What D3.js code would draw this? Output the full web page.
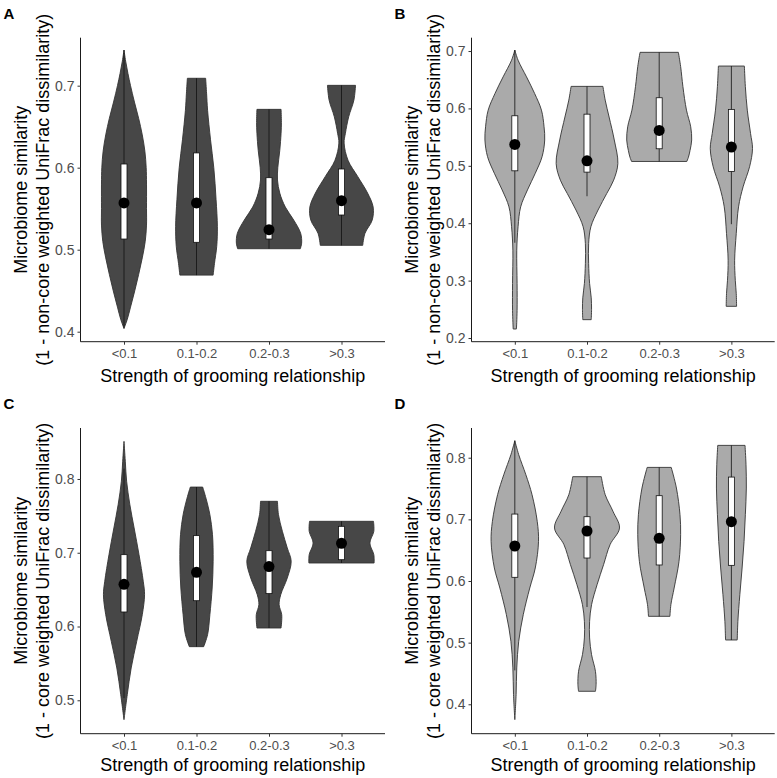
<!DOCTYPE html>
<html>
<head>
<meta charset="utf-8">
<script src="https://cdn.jsdelivr.net/npm/d3@7"></script>
<style>
  html, body { margin: 0; padding: 0; background: #fff; }
  svg { display: block; }
  text { font-family: "Liberation Sans", Arial, sans-serif; }
</style>
</head>
<body>
<svg id="chart" width="777" height="778"></svg>
<script>
// ---------- data ----------
const categories = ["<0.1", "0.1-0.2", "0.2-0.3", ">0.3"];
const panelLabels = ["A", "B", "C", "D"];
const xTitle = "Strength of grooming relationship";
const yTitleLine1 = "Microbiome similarity";
const yTitleNonCore = "(1 - non-core weighted UniFrac dissimilarity)";
const yTitleCore = "(1 - core weighted UniFrac dissimilarity)";

const yTicksA = [0.4, 0.5, 0.6, 0.7];
const yTicksB = [0.2, 0.3, 0.4, 0.5, 0.6, 0.7];
const yTicksC = [0.5, 0.6, 0.7, 0.8];
const yTicksD = [0.4, 0.5, 0.6, 0.7, 0.8];

const yDomainA = [0.3878, 0.7585];
const yDomainB = [0.1936, 0.7232];
const yDomainC = [0.4547, 0.8691];
const yDomainD = [0.3523, 0.8482];

// violin profiles: [similarity value, relative density width]
const densityA = [
  [[0.7435,0],[0.73,0.05],[0.715,0.12],[0.70,0.2],[0.68,0.32],[0.66,0.45],[0.64,0.56],[0.62,0.64],[0.60,0.68],[0.58,0.69],[0.55,0.69],[0.53,0.69],[0.51,0.65],[0.49,0.56],[0.47,0.45],[0.45,0.33],[0.43,0.2],[0.415,0.1],[0.404,0]],
  [[0.709,0.28],[0.69,0.31],[0.67,0.34],[0.634,0.43],[0.60,0.53],[0.561,0.60],[0.528,0.64],[0.504,0.62],[0.483,0.55],[0.469,0.51]],
  [[0.6711,0.37],[0.655,0.38],[0.642,0.37],[0.621,0.33],[0.60,0.27],[0.585,0.26],[0.569,0.33],[0.552,0.5],[0.536,0.76],[0.52,0.97],[0.508,1.0],[0.5012,0.96]],
  [[0.7004,0.43],[0.6825,0.38],[0.662,0.22],[0.642,0.12],[0.63,0.08],[0.609,0.2],[0.589,0.5],[0.569,0.8],[0.552,0.97],[0.536,0.94],[0.52,0.72],[0.5053,0.65]]
];
const densityB = [
  [[0.7017,0],[0.684,0.1],[0.655,0.36],[0.626,0.61],[0.597,0.82],[0.568,0.9],[0.545,0.92],[0.516,0.84],[0.487,0.63],[0.458,0.39],[0.4285,0.18],[0.394,0.1],[0.353,0.06],[0.295,0.07],[0.248,0.07],[0.2157,0.05]],
  [[0.6384,0.49],[0.6145,0.56],[0.585,0.68],[0.545,0.84],[0.504,0.95],[0.475,0.82],[0.452,0.61],[0.423,0.34],[0.394,0.12],[0.3645,0.05],[0.33,0.05],[0.295,0.08],[0.27,0.13],[0.25,0.14],[0.232,0.13]],
  [[0.6977,0.59],[0.673,0.66],[0.638,0.73],[0.597,0.84],[0.568,0.97],[0.545,1.0],[0.527,0.95],[0.515,0.9],[0.5076,0.85]],
  [[0.6738,0.4],[0.638,0.43],[0.597,0.49],[0.5564,0.59],[0.53,0.65],[0.4983,0.56],[0.4634,0.36],[0.4285,0.22],[0.382,0.15],[0.3355,0.1],[0.3006,0.12],[0.2773,0.15],[0.2552,0.16]]
];
const densityC = [
  [[0.851,0],[0.824,0.04],[0.797,0.08],[0.765,0.18],[0.7336,0.31],[0.6974,0.46],[0.6613,0.59],[0.6432,0.63],[0.616,0.56],[0.58,0.39],[0.5438,0.22],[0.5076,0.1],[0.4737,0]],
  [[0.789,0.19],[0.774,0.29],[0.7516,0.41],[0.7245,0.49],[0.6884,0.51],[0.6522,0.48],[0.616,0.41],[0.589,0.34],[0.5727,0.22]],
  [[0.7697,0.26],[0.7516,0.29],[0.729,0.41],[0.7065,0.56],[0.6884,0.68],[0.6658,0.56],[0.6432,0.36],[0.6296,0.31],[0.616,0.39],[0.598,0.37]],
  [[0.7426,0.98],[0.729,0.99],[0.7132,0.87],[0.6974,0.99],[0.6861,1.0]]
];
const densityD = [
  [[0.8276,0],[0.8049,0.12],[0.7724,0.34],[0.74,0.53],[0.6968,0.69],[0.6643,0.73],[0.6211,0.63],[0.5886,0.46],[0.5454,0.26],[0.5022,0.12],[0.459,0.06],[0.4157,0.04],[0.3751,0]],
  [[0.7692,0.44],[0.74,0.56],[0.713,0.8],[0.686,1.0],[0.659,0.71],[0.6265,0.51],[0.594,0.31],[0.5616,0.14],[0.5346,0.08],[0.5076,0.08],[0.4805,0.14],[0.4535,0.26],[0.4319,0.28],[0.4211,0.26]],
  [[0.7843,0.37],[0.7508,0.53],[0.7076,0.64],[0.6751,0.66],[0.6319,0.61],[0.5886,0.46],[0.5616,0.36],[0.5427,0.33]],
  [[0.82,0.42],[0.7886,0.45],[0.7508,0.46],[0.7076,0.43],[0.6643,0.39],[0.6211,0.33],[0.5778,0.26],[0.5346,0.2],[0.5043,0.18]]
];

// box summaries per category
const q1A = [0.513, 0.509, 0.513, 0.5423];
const q3A = [0.6045, 0.618, 0.5878, 0.5984];
const meanA = [0.557, 0.557, 0.5244, 0.5598];
const whiskLoA = [0.404, 0.469, 0.5012, 0.5053];
const whiskHiA = [0.7435, 0.709, 0.6711, 0.7004];

const q1B = [0.4913, 0.489, 0.5297, 0.4901];
const q3B = [0.5872, 0.590, 0.6186, 0.5983];
const meanB = [0.5372, 0.5087, 0.5616, 0.5326];
const whiskLoB = [0.366, 0.447, 0.5076, 0.3983];
const whiskHiB = [0.7017, 0.6384, 0.6977, 0.6738];

const q1C = [0.6197, 0.635, 0.6446, 0.6906];
const q3C = [0.6974, 0.7232, 0.7028, 0.7358];
const meanC = [0.6572, 0.6735, 0.6812, 0.7128];
const whiskLoC = [0.503, 0.5727, 0.598, 0.6861];
const whiskHiC = [0.814, 0.789, 0.7697, 0.7426];

const q1D = [0.606, 0.6373, 0.626, 0.6254];
const q3D = [0.7086, 0.7043, 0.7384, 0.7686];
const meanD = [0.6568, 0.6811, 0.6692, 0.6962];
const whiskLoD = [0.455, 0.5578, 0.5427, 0.5043];
const whiskHiD = [0.8276, 0.7692, 0.7843, 0.82];

// ---------- drawing ----------
const svg = d3.select("#chart");
const darkFill = "#474747", lightFill = "#aaaaaa";

const panels = [
  {label: panelLabels[0], x0: 80.5, x1: 385, y0: 37.7, y1: 341.7, dom: yDomainA, ticks: yTicksA, dens: densityA, q1: q1A, q3: q3A, mean: meanA, lo: whiskLoA, hi: whiskHiA, fill: darkFill, t2: yTitleNonCore, xt: 40},
  {label: panelLabels[1], x0: 471.5, x1: 774.7, y0: 37.7, y1: 341.7, dom: yDomainB, ticks: yTicksB, dens: densityB, q1: q1B, q3: q3B, mean: meanB, lo: whiskLoB, hi: whiskHiB, fill: lightFill, t2: yTitleNonCore, xt: 40},
  {label: panelLabels[2], x0: 80.5, x1: 385, y0: 428, y1: 733.7, dom: yDomainC, ticks: yTicksC, dens: densityC, q1: q1C, q3: q3C, mean: meanC, lo: whiskLoC, hi: whiskHiC, fill: darkFill, t2: yTitleCore, xt: 37.5},
  {label: panelLabels[3], x0: 471.5, x1: 774.7, y0: 428, y1: 733.7, dom: yDomainD, ticks: yTicksD, dens: densityD, q1: q1D, q3: q3D, mean: meanD, lo: whiskLoD, hi: whiskHiD, fill: lightFill, t2: yTitleCore, xt: 37.5}
];

panels.forEach(p => {
  const g = svg.append("g");
  const x = d3.scalePoint().domain(categories).range([p.x0, p.x1]).padding(0.6);
  const y = d3.scaleLinear().domain(p.dom).range([p.y1, p.y0]);
  const half = x.step() * 0.45;

  // violins
  categories.forEach((c, i) => {
    const cx = x(c);
    const area = d3.area()
      .y(d => y(d[0]))
      .x0(d => cx - d[1] * half)
      .x1(d => cx + d[1] * half)
      .curve(d3.curveCatmullRom.alpha(0.5));
    g.append("path")
      .attr("d", area(p.dens[i]))
      .attr("fill", p.fill)
      .attr("stroke", "#333333")
      .attr("stroke-width", 0.9);
    // whisker
    g.append("line")
      .attr("x1", cx).attr("x2", cx)
      .attr("y1", y(p.lo[i])).attr("y2", y(p.hi[i]))
      .attr("stroke", "#111").attr("stroke-width", 0.8);
    // box
    g.append("rect")
      .attr("x", cx - 3).attr("width", 6)
      .attr("y", y(p.q3[i])).attr("height", y(p.q1[i]) - y(p.q3[i]))
      .attr("fill", "#fff").attr("stroke", "#111").attr("stroke-width", 0.8);
    // mean
    g.append("circle")
      .attr("cx", cx).attr("cy", y(p.mean[i])).attr("r", 5.5)
      .attr("fill", "#000");
  });

  // axes
  const yAxis = d3.axisLeft(y).tickValues(p.ticks).tickFormat(d3.format(".1f")).tickSize(3).tickPadding(3);
  const ya = g.append("g").attr("transform", `translate(${p.x0},0)`).call(yAxis);
  ya.select(".domain").attr("d", `M0,${p.y0}V${p.y1}`).attr("stroke", "#000").attr("stroke-width", 0.9);
  ya.selectAll(".tick line").attr("stroke", "#333");
  ya.selectAll(".tick text").attr("fill", "#4d4d4d").style("font-size", "14px").style("font-family", '"Liberation Sans", Arial, sans-serif');

  const xAxis = d3.axisBottom(x).tickSize(3).tickPadding(4);
  const xa = g.append("g").attr("transform", `translate(0,${p.y1})`).call(xAxis);
  xa.select(".domain").attr("d", `M${p.x0},0H${p.x1}`).attr("stroke", "#000").attr("stroke-width", 0.9);
  xa.selectAll(".tick line").attr("stroke", "#333");
  xa.selectAll(".tick text").attr("fill", "#4d4d4d").style("font-size", "13px").style("font-family", '"Liberation Sans", Arial, sans-serif');

  // x title
  g.append("text")
    .attr("x", (p.x0 + p.x1) / 2).attr("y", p.y1 + p.xt)
    .attr("text-anchor", "middle")
    .style("font-size", "18px").attr("fill", "#000")
    .text(xTitle);

  // y title (two lines)
  const cy = (p.y0 + p.y1) / 2;
  const yt = g.append("text")
    .attr("transform", `translate(${p.x0 - 31.5},${cy}) rotate(-90)`)
    .attr("text-anchor", "middle")
    .style("font-size", "18px").attr("fill", "#000");
  yt.append("tspan").attr("x", 0).attr("dy", "-1.2em").text(yTitleLine1);
  yt.append("tspan").attr("x", 0).attr("dy", "1.2em").text(p.t2);

  // panel label
  g.append("text")
    .attr("x", p.x0 - 77).attr("y", p.y0 - 19)
    .style("font-size", "15px").style("font-weight", "bold").attr("fill", "#000")
    .text(p.label);
});
</script>
</body>
</html>
